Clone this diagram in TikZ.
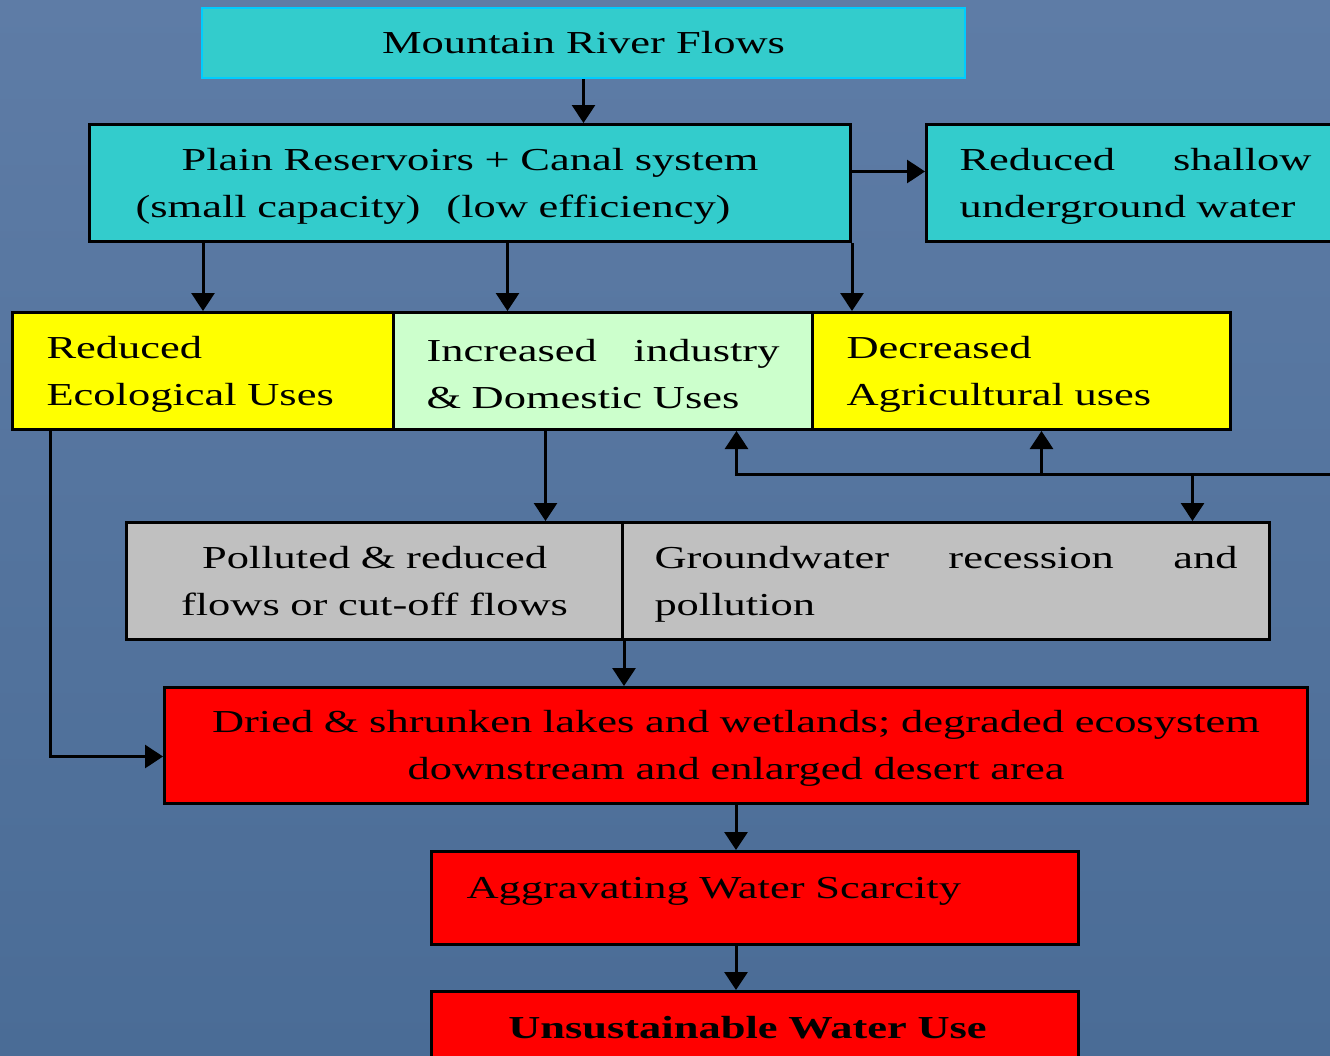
\documentclass[tikz,border=0pt]{standalone}
\usepackage{fontspec}
\setmainfont{Liberation Serif}[FakeStretch=1.39]
\usetikzlibrary{arrows.meta,calc}
\definecolor{teal1}{RGB}{51,204,204}
\definecolor{cyanb}{RGB}{0,204,255}
\definecolor{ylw}{RGB}{255,255,0}
\definecolor{lgreen}{RGB}{204,255,204}
\definecolor{gry}{RGB}{192,192,192}
\definecolor{rd}{RGB}{255,0,0}
\definecolor{bgtop}{RGB}{94,124,166}
\definecolor{bgbot}{RGB}{74,108,150}
\newcommand\mystrut{\rule{0pt}{28pt}}
\begin{document}
\begin{tikzpicture}[x=1pt,y=-1pt,
  box/.style={draw=black, line width=3pt, inner sep=0pt, anchor=north west,
    font=\fontsize{32}{47}\selectfont, text=black},
  arr/.style={draw=black, line width=3pt, -{Triangle[width=23pt,length=18pt]}}]
\useasboundingbox (0,0) rectangle (1330,1055);
\begin{scope}
\clip (0,0) rectangle (1330,1055);
\shade[top color=bgtop, bottom color=bgbot] (0,0) rectangle (1330,1055);

\node[box, fill=teal1, draw=cyanb, line width=2pt, minimum width=763pt, minimum height=70pt] (mrf) at (201,7) {Mountain River Flows};

\node[box, fill=teal1, minimum width=761pt, minimum height=117pt, text width=720pt, align=center] (prc) at (88,123)
  {\mystrut Plain Reservoirs + Canal system\\(small capacity)\hspace{26pt}(low efficiency)\hspace*{74pt}};

\node[box, fill=teal1, minimum width=418pt, minimum height=117pt, text width=352pt, align=left] (rsu) at (925,123)
  {\hbox to 352pt{\mystrut Reduced\hfil shallow}\\underground water};

\node[box, fill=ylw, minimum width=381pt, minimum height=117pt, text width=313pt, align=left] (reu) at (11,311)
  {\mystrut Reduced\\Ecological Uses};

\node[box, fill=lgreen, minimum width=419pt, minimum height=117pt, text width=353pt, align=left] (idu) at (392,311)
  {\hbox to 353pt{\mystrut Increased\hfil industry}\\\& Domestic Uses};

\node[box, fill=ylw, minimum width=418pt, minimum height=117pt, text width=350pt, align=left] (dau) at (811,311)
  {\mystrut Decreased\\Agricultural uses};

\node[box, fill=gry, minimum width=496pt, minimum height=117pt, text width=460pt, align=center] (prf) at (125,521)
  {Polluted \& reduced\\flows or cut-off flows};

\node[box, fill=gry, minimum width=647pt, minimum height=117pt, text width=583pt, align=left] (grp) at (621,521)
  {\hbox to 583pt{\mystrut Groundwater\hfil recession\hfil and}\\pollution};

\node[box, fill=rd, minimum width=1143pt, minimum height=116pt, text width=1100pt, align=center] (dsl) at (163,686)
  {\mystrut Dried \& shrunken lakes and wetlands; degraded ecosystem\\downstream and enlarged desert area};

\node[box, fill=rd, minimum width=647pt, minimum height=93pt, text width=577pt, align=left, text depth=20pt] (aws) at (430,850)
  {Aggravating Water Scarcity};

\node[box, fill=rd, minimum width=647pt, minimum height=72pt, text width=600pt, align=center] (uwu) at (430,990)
  {\bfseries Unsustainable Water Use\hspace*{15pt}};

\coordinate (fbR) at (1335,474);

% connectors
\draw[arr] (mrf.south) -- (mrf.south |- prc.north);
\draw[arr] (reu.north |- prc.south) -- (reu.north);
\draw[arr] ([xshift=37.5pt]prc.south) -- ([xshift=37.5pt]prc.south |- idu.north);
\draw[arr] (prc.south east) -- (prc.south east |- dau.north);
\draw[arr] ([yshift=11.5pt]prc.east) -- ([yshift=11.5pt]prc.east -| rsu.west);
\draw[arr] ([xshift=-57.5pt]idu.south) -- ([xshift=-57.5pt]idu.south |- prf.north);
\draw[arr] (fbR) -| ([xshift=133.5pt]idu.south);
\draw[arr] ([xshift=20pt]dau.south |- fbR) -- ([xshift=20pt]dau.south);
\draw[arr] ([xshift=246.5pt]grp.north |- fbR) -- ([xshift=246.5pt]grp.north);
\draw[arr] (prf.south east) -- (prf.south east |- dsl.north);
\draw[arr] ([xshift=-152.5pt]reu.south) |- ([yshift=-11pt]dsl.west);
\draw[arr] (dsl.south) -- (dsl.south |- aws.north);
\draw[arr] (dsl.south |- aws.south) -- (dsl.south |- uwu.north);
\end{scope}
\end{tikzpicture}
\end{document}
